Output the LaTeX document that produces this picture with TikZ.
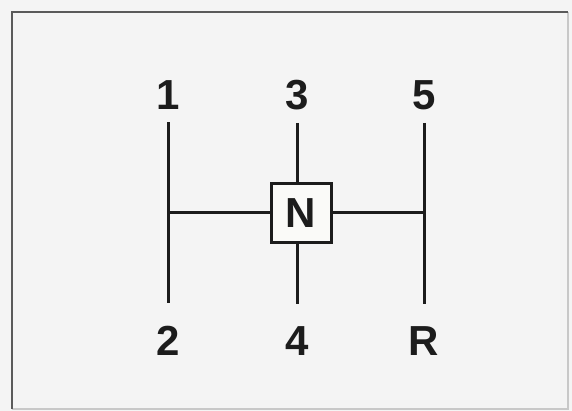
\documentclass[tikz,border=0pt]{standalone}
\usepackage{fontspec}
\setmainfont{Liberation Sans}
\usetikzlibrary{calc}
\definecolor{paperF}{HTML}{F4F4F4}
\definecolor{gateF}{HTML}{FAFAF8}
\definecolor{frameC}{HTML}{5A5A5A}
\definecolor{frameL}{HTML}{C8C8C8}
\definecolor{ink}{HTML}{1C1C1C}
\tikzset{
  lbl/.style={font=\fontsize{21}{24}\selectfont\bfseries, text=ink, inner sep=0pt, anchor=base},
  rail/.style={draw=ink, line width=1.5pt},
  gate/.style={draw=ink, line width=1.5pt, fill=gateF, minimum width=30pt,
               minimum height=29pt, inner sep=0pt,
               font=\fontsize{21}{24}\selectfont\bfseries, text=ink},
}
\begin{document}
\begin{tikzpicture}[x=0.5pt, y=-0.5pt]
  \useasboundingbox (0,0) rectangle (572,411);
  \fill[paperF] (0,0) rectangle (572,411);
  \draw[frameL, line width=1.2pt] (12,409) -- (568,409) -- (568,12);
  \draw[frameC, line width=1.4pt] (12,409) -- (12,12) -- (568,12);

  % ---------------------------------------------------------- gear labels
  \node[lbl] (g1) at (168,110) {1};
  \node[lbl] (g3) at (297,110) {3};
  \node[lbl] (g5) at (424,110) {5};
  \node[lbl] (g2) at (168,355) {2};
  \node[lbl] (g4) at (297,355) {4};
  \node[lbl] (gR) at (424,355) {R};

  % ---------------------------------------------------------- neutral
  \node[gate] (N) at (301,213) {N};

  % ---------------------------------------------------------- gate rails
  \draw[rail, shorten <=6pt, shorten >=11pt] (g1.south) -- (g2.north);
  \draw[rail, shorten <=6pt, shorten >=11pt] (g5.south) -- (gR.north);
  \draw[rail, shorten <=6pt] (g3.south) -- (g3.south |- N.north);
  \draw[rail, shorten >=11pt] (g4.north |- N.south) -- (g4.north);
  \draw[rail] (g1.south |- N) -- (N.west);
  \draw[rail] (N.east) -- (g5.south |- N);
\end{tikzpicture}
\end{document}
